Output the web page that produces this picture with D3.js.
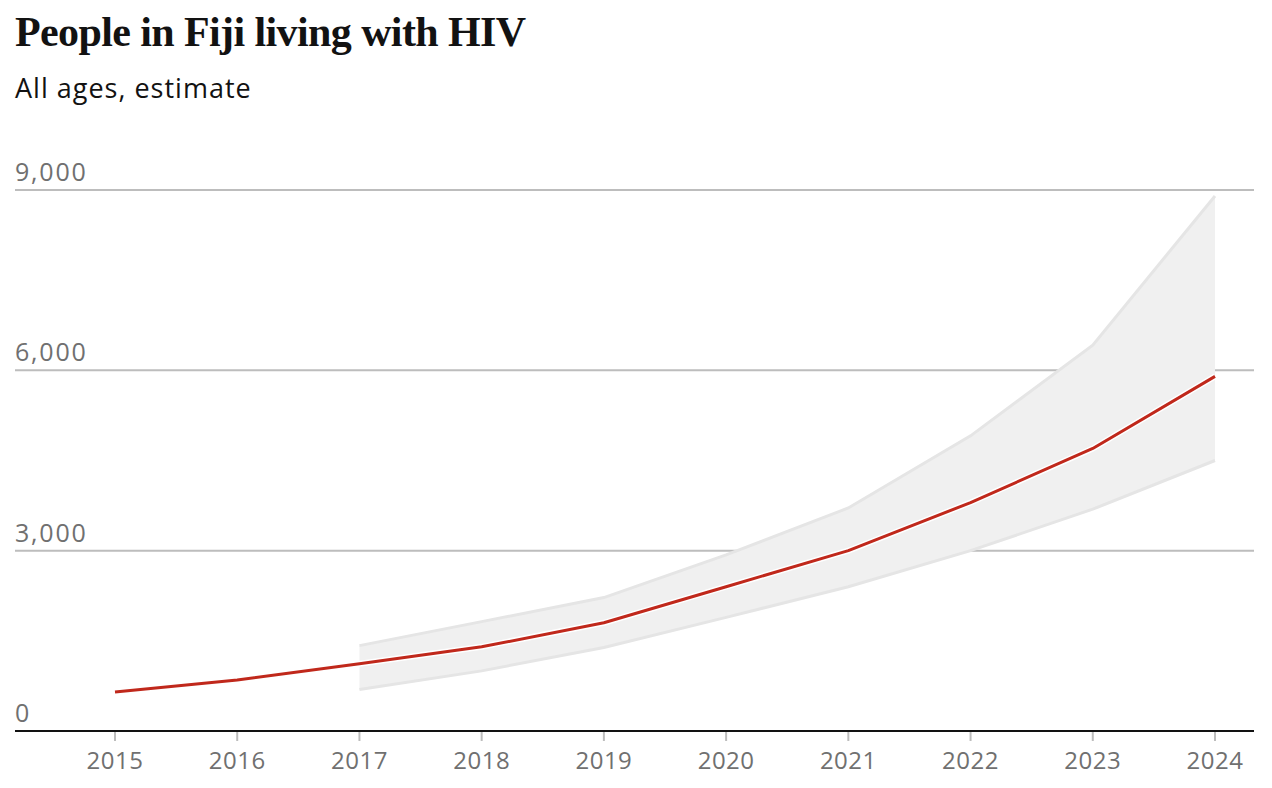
<!DOCTYPE html>
<html>
<head>
<meta charset="utf-8">
<script src="https://cdn.jsdelivr.net/npm/d3@7"></script>
<style>
  body { margin: 0; background: #fff; }
  .title { font-family: "Liberation Serif", "DejaVu Serif", serif; font-weight: bold; fill: #121212; }
  .sub { font-family: "Open Sans", "Noto Sans", sans-serif; fill: #121212; }
  .tick-label { font-family: "Open Sans", "Noto Sans", sans-serif; fill: #707070; }
</style>
</head>
<body>
<div id="chart"></div>
<script>
var width = 1272,
  height = 788;

// data
var years = [2015, 2016, 2017, 2018, 2019, 2020, 2021, 2022, 2023, 2024];
var estimate = [650, 850, 1120, 1400, 1800, 2400, 3000, 3800, 4700, 5900];
var bandYears = [2017, 2018, 2019, 2020, 2021, 2022, 2023, 2024];
var upper = [1420, 1820, 2220, 2930, 3710, 4910, 6420, 8900];
var lower = [690, 1000, 1390, 1890, 2400, 3000, 3690, 4500];
var yTicks = [0, 3000, 6000, 9000];

var margin = {top: 190, right: 18, bottom: 57, left: 15};

var svg = d3.select("#chart").append("svg")
  .attr("width", width)
  .attr("height", height);

svg.append("text")
  .attr("class", "title")
  .attr("x", 15)
  .attr("y", 46)
  .style("font-size", "42px")
  .style("letter-spacing", "-0.6px")
  .text("People in Fiji living with HIV");

svg.append("text")
  .attr("class", "sub")
  .attr("x", 15)
  .attr("y", 98)
  .style("font-size", "27px")
  .style("letter-spacing", "1px")
  .text("All ages, estimate");

var x = d3.scaleLinear()
  .domain([2015, 2024])
  .range([115, 1215]);

var y = d3.scaleLinear()
  .domain([0, 9000])
  .range([height - margin.bottom, margin.top]);

var g = svg.append("g");

// gridlines + labels
var grid = g.selectAll(".grid")
  .data(yTicks.filter(function(d) { return d > 0; }))
  .enter().append("g");

grid.append("line")
  .attr("x1", margin.left)
  .attr("x2", width - margin.right)
  .attr("y1", function(d) { return y(d); })
  .attr("y2", function(d) { return y(d); })
  .attr("stroke", "#bdbdbd")
  .attr("stroke-width", 2);

g.selectAll(".ylab")
  .data(yTicks)
  .enter().append("text")
  .attr("class", "tick-label")
  .attr("x", margin.left)
  .attr("y", function(d) { return y(d) - 9; })
  .style("font-size", "25px")
  .style("letter-spacing", "1.8px")
  .text(function(d) { return d3.format(",")(d); });

// uncertainty band
var band = bandYears.map(function(d, i) {
  return {year: d, lo: lower[i], hi: upper[i]};
});

var area = d3.area()
  .x(function(d) { return x(d.year); })
  .y0(function(d) { return y(d.lo); })
  .y1(function(d) { return y(d.hi); });

g.append("path")
  .datum(band)
  .attr("d", area)
  .attr("fill", "#f0f0f0");

var edge = d3.line()
  .x(function(d) { return x(d.year); });

g.append("path")
  .datum(band)
  .attr("d", edge.y(function(d) { return y(d.hi); }))
  .attr("fill", "none")
  .attr("stroke", "#e5e5e5")
  .attr("stroke-width", 3);

g.append("path")
  .datum(band)
  .attr("d", edge.y(function(d) { return y(d.lo); }))
  .attr("fill", "none")
  .attr("stroke", "#e5e5e5")
  .attr("stroke-width", 3);

// x axis
var axis = g.append("g")
  .attr("transform", "translate(0," + y(0) + ")");

axis.selectAll(".xtick")
  .data(years)
  .enter().append("line")
  .attr("x1", function(d) { return x(d); })
  .attr("x2", function(d) { return x(d); })
  .attr("y1", 0)
  .attr("y2", 10)
  .attr("stroke", "#bdbdbd")
  .attr("stroke-width", 2);

axis.append("line")
  .attr("x1", margin.left)
  .attr("x2", width - margin.right)
  .attr("stroke", "#121212")
  .attr("stroke-width", 2);

axis.selectAll(".xlab")
  .data(years)
  .enter().append("text")
  .attr("class", "tick-label")
  .attr("x", function(d) { return x(d); })
  .attr("y", 38)
  .attr("text-anchor", "middle")
  .style("font-size", "24px")
  .style("letter-spacing", "0.5px")
  .text(function(d) { return d; });

// estimate line, white halo under red
var line = d3.line()
  .x(function(d, i) { return x(years[i]); })
  .y(function(d) { return y(d); });

g.append("path")
  .datum(estimate)
  .attr("d", line)
  .attr("fill", "none")
  .attr("stroke", "#fff")
  .attr("stroke-width", 6)
  .attr("stroke-linejoin", "round");

g.append("path")
  .datum(estimate)
  .attr("d", line)
  .attr("fill", "none")
  .attr("stroke", "#c0281b")
  .attr("stroke-width", 3)
  .attr("stroke-linejoin", "round");
</script>
</body>
</html>
